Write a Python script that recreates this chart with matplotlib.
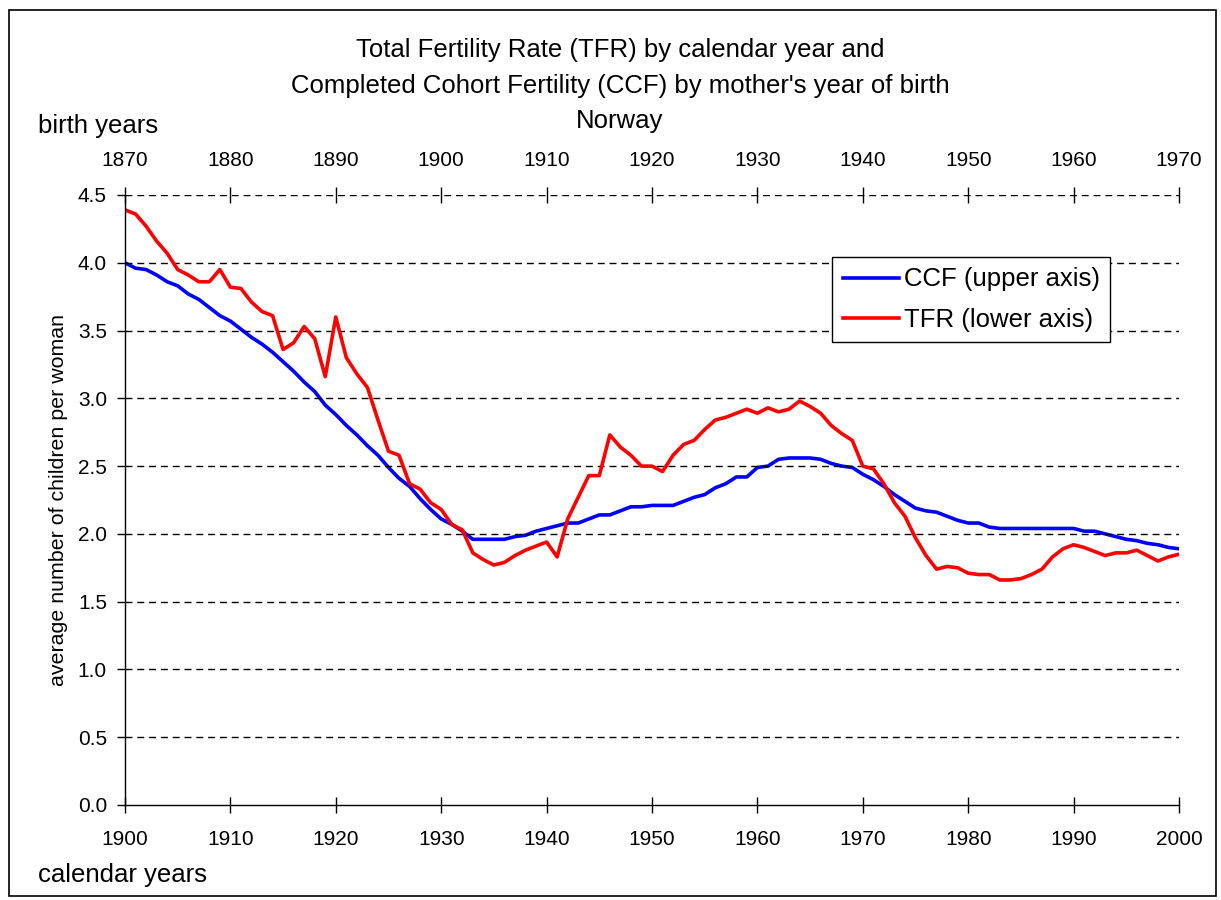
import numpy as np
import matplotlib
matplotlib.use('Agg')
import matplotlib.pyplot as plt
from matplotlib.patches import Rectangle

plt.rcParams['font.family'] = ['Liberation Sans', 'DejaVu Sans']

# calendar years / TFR (lower axis)
tfr_years = list(range(1900, 2001))
tfr = [4.39, 4.36, 4.27, 4.16, 4.07, 3.95, 3.91, 3.86, 3.86, 3.95,
       3.82, 3.81, 3.71, 3.64, 3.61, 3.36, 3.41, 3.53, 3.44, 3.16,
       3.60, 3.30, 3.18, 3.08, 2.84, 2.61, 2.58, 2.37, 2.33, 2.23,
       2.18, 2.07, 2.03, 1.86, 1.81, 1.77, 1.79, 1.84, 1.88, 1.91,
       1.94, 1.83, 2.11, 2.27, 2.43, 2.43, 2.73, 2.64, 2.58, 2.50,
       2.50, 2.46, 2.58, 2.66, 2.69, 2.77, 2.84, 2.86, 2.89, 2.92,
       2.89, 2.93, 2.90, 2.92, 2.98, 2.94, 2.89, 2.80, 2.74, 2.69,
       2.50, 2.48, 2.37, 2.23, 2.13, 1.97, 1.84, 1.74, 1.76, 1.75,
       1.71, 1.70, 1.70, 1.66, 1.66, 1.67, 1.70, 1.74, 1.83, 1.89,
       1.92, 1.90, 1.87, 1.84, 1.86, 1.86, 1.88, 1.84, 1.80, 1.83,
       1.85]

# birth years / CCF (upper axis)
ccf_years = list(range(1870, 1971))
ccf = [4.00, 3.96, 3.95, 3.91, 3.86, 3.83, 3.77, 3.73, 3.67, 3.61,
       3.57, 3.51, 3.45, 3.40, 3.34, 3.27, 3.20, 3.12, 3.05, 2.95,
       2.88, 2.80, 2.73, 2.65, 2.58, 2.49, 2.41, 2.35, 2.26, 2.18,
       2.11, 2.07, 2.02, 1.96, 1.96, 1.96, 1.96, 1.98, 1.99, 2.02,
       2.04, 2.06, 2.08, 2.08, 2.11, 2.14, 2.14, 2.17, 2.20, 2.20,
       2.21, 2.21, 2.21, 2.24, 2.27, 2.29, 2.34, 2.37, 2.42, 2.42,
       2.49, 2.50, 2.55, 2.56, 2.56, 2.56, 2.55, 2.52, 2.50, 2.49,
       2.44, 2.40, 2.35, 2.29, 2.24, 2.19, 2.17, 2.16, 2.13, 2.10,
       2.08, 2.08, 2.05, 2.04, 2.04, 2.04, 2.04, 2.04, 2.04, 2.04,
       2.04, 2.02, 2.02, 2.00, 1.98, 1.96, 1.95, 1.93, 1.92, 1.90,
       1.89]

yticks = [0.0, 0.5, 1.0, 1.5, 2.0, 2.5, 3.0, 3.5, 4.0, 4.5]
fs_tick = 15
fs_big = 18.5

fig = plt.figure(figsize=(12.21, 9.0), dpi=100)
ax = fig.add_axes([125/1221, 1-805/900, (1179-125)/1221, (805-195)/900])
ax2 = ax.twiny()

# red on top of blue
ax.set_zorder(ax2.get_zorder()+1)
ax.patch.set_visible(False)

l2, = ax2.plot(ccf_years, ccf, color='#0000ff', lw=2.6)
l1, = ax.plot(tfr_years, tfr, color='#ff0000', lw=2.6)

ax.set_xlim(1900, 2000)
ax2.set_xlim(1870, 1970)
ax.set_ylim(0, 4.5)
ax.set_xticks(range(1900, 2001, 10))
ax2.set_xticks(range(1870, 1971, 10))
ax.set_yticks(yticks)
ax.set_yticklabels(['%.1f' % v for v in yticks])

for g in yticks[1:]:
    ax.axhline(g, color='black', lw=1.0, dashes=(5, 3.5), zorder=0.5)

for a in (ax, ax2):
    a.spines['right'].set_visible(False)
    a.spines['top'].set_visible(False)
ax2.spines['left'].set_visible(False)
ax2.spines['bottom'].set_visible(False)
ax.spines['left'].set_linewidth(1.0)
ax.spines['bottom'].set_linewidth(1.0)

ax.tick_params(axis='x', direction='inout', length=12, width=1, labelsize=fs_tick, pad=12)
ax.tick_params(axis='y', direction='out', length=6, width=1, labelsize=fs_tick, pad=7)
ax2.tick_params(axis='x', direction='inout', length=12, width=1, labelsize=fs_tick, pad=12)

ax.set_ylabel('average number of children per woman', fontsize=15.4, labelpad=7)

leg = ax.legend([l2, l1], ['CCF (upper axis)', 'TFR (lower axis)'],
                loc='upper left', bbox_to_anchor=(0.671, 0.898), borderaxespad=0,
                fancybox=False, edgecolor='black', framealpha=1, fontsize=fs_big,
                handlelength=2.2, handletextpad=0.2, labelspacing=0.65, borderpad=0.4)
leg.get_frame().set_linewidth(1.0)

fig.text(620/1221, 1-50/900, 'Total Fertility Rate (TFR) by calendar year and', ha='center', va='center', fontsize=fs_big)
fig.text(620/1221, 1-86/900, "Completed Cohort Fertility (CCF) by mother's year of birth", ha='center', va='center', fontsize=fs_big)
fig.text(620/1221, 1-121/900, 'Norway', ha='center', va='center', fontsize=fs_big)
fig.text(38/1221, 1-126/900, 'birth years', ha='left', va='center', fontsize=fs_big)
fig.text(38/1221, 1-875/900, 'calendar years', ha='left', va='center', fontsize=fs_big)

fig.patches.append(Rectangle((9/1221, 1-896/900), (1216-9)/1221, (896-10)/900,
                             transform=fig.transFigure, fill=False, edgecolor='black', lw=1.2))

fig.savefig('out.png', dpi=100)
